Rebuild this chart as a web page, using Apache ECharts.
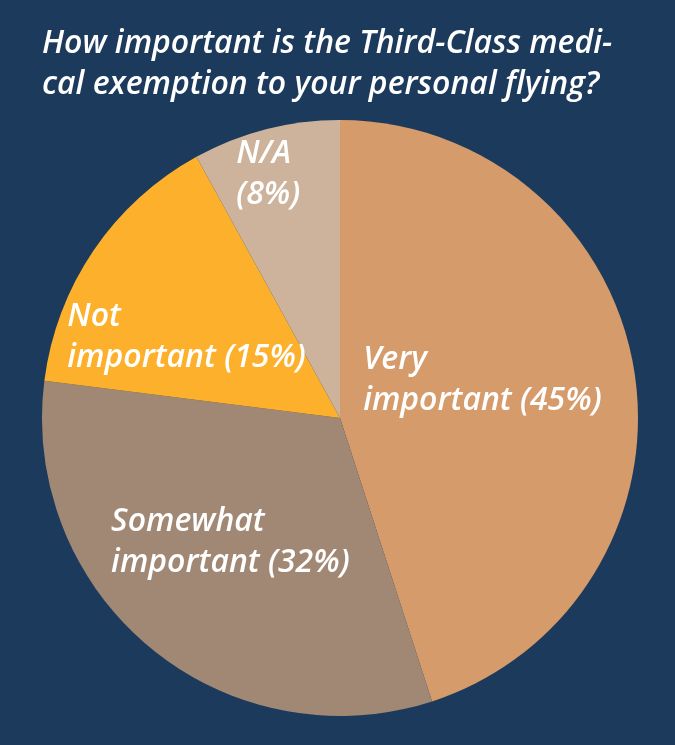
<!DOCTYPE html>
<html><head><meta charset="utf-8">
<script src="https://cdn.jsdelivr.net/npm/echarts@6/dist/echarts.min.js"></script>
<style>html,body{margin:0;padding:0;background:#1b3a5c;}#c{width:675px;height:745px;}</style>
</head><body><div id="c"></div>
<script>
const titleLines = ['How important is the Third-Class medi-', 'cal exemption to your personal flying?'];
const categories = ['Very important', 'Somewhat important', 'Not important', 'N/A'];
const labelLines = [['Very', 'important (45%)'], ['Somewhat', 'important (32%)'], ['Not', 'important (15%)'], ['N/A', '(8%)']];
const values = [45, 32, 15, 8];
const colors = ['#d69b6b', '#a08875', '#fdb02b', '#cdb39b'];
const labelOffsets = [[-2, -14], [-7, 7], [-22, 5], [59, -96]];

const chart = echarts.init(document.getElementById('c'));
const font = '"Open Sans", "Noto Sans", sans-serif';
const txt = { color: '#ffffff', fontFamily: font, fontStyle: 'italic', fontWeight: 600, fontSize: 32, lineHeight: 41, width: 250, align: 'left' };
chart.setOption({
  backgroundColor: '#1b3a5c',
  title: {
    text: titleLines.join('\n'),
    left: 37, top: 18,
    textStyle: { color: '#ffffff', fontFamily: font, fontStyle: 'italic', fontWeight: 600, fontSize: 32, lineHeight: 41 }
  },
  series: [{
    type: 'pie',
    center: [340, 418],
    radius: [0, 298],
    startAngle: 90,
    clockwise: true,
    silent: true,
    labelLine: { show: false },
    data: categories.map((c, i) => ({
      name: c, value: values[i],
      itemStyle: { color: colors[i] },
      label: {
        show: true, position: 'inside',
        formatter: labelLines[i].map(l => '{t|' + l + '}').join('\n'),
        offset: labelOffsets[i],
        rich: { t: txt }
      }
    })),
    itemStyle: { borderWidth: 0 }
  }]
});
</script></body></html>
